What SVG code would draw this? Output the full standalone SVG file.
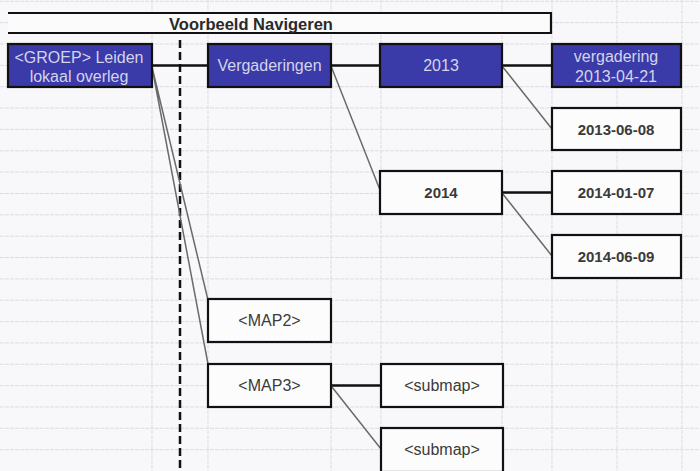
<svg xmlns="http://www.w3.org/2000/svg" width="700" height="471" viewBox="0 0 700 471">
<defs>
<style>
.grid line{stroke:#dcdce3;stroke-width:1;stroke-dasharray:4 1}
.blue{fill:#3a3aa8;stroke:#111;stroke-width:2.2}
.white{fill:#fcfcfc;stroke:#111;stroke-width:2.2}
.bt{font-family:"Liberation Sans",Arial,sans-serif;font-size:16px;fill:#d4d4ea;text-anchor:middle}
.wt{font-family:"Liberation Sans",Arial,sans-serif;font-size:15px;font-weight:bold;fill:#3a3a3a;text-anchor:middle}
.st{font-family:"Liberation Sans",Arial,sans-serif;font-size:16px;fill:#3a3a3a;text-anchor:middle}
.h{stroke:#111;stroke-width:2.4;fill:none}
.d{stroke:#6a6a6a;stroke-width:1.5;fill:none}
</style>
</defs>
<rect width="700" height="471" fill="#f8f8fa"/>
<g class="grid">
<line x1="152" y1="0" x2="152" y2="471"/>
<line x1="208" y1="0" x2="208" y2="471"/>
<line x1="331" y1="0" x2="331" y2="471"/>
<line x1="381" y1="0" x2="381" y2="471"/>
<line x1="502" y1="0" x2="502" y2="471"/>
<line x1="552" y1="0" x2="552" y2="471"/>
<line x1="617" y1="0" x2="617" y2="471"/>
<line x1="682" y1="0" x2="682" y2="471"/>
<line x1="0" y1="1.3" x2="700" y2="1.3"/>
<line x1="0" y1="22.6" x2="700" y2="22.6"/>
<line x1="0" y1="44" x2="700" y2="44"/>
<line x1="0" y1="65.4" x2="700" y2="65.4"/>
<line x1="0" y1="86.7" x2="700" y2="86.7"/>
<line x1="0" y1="108" x2="700" y2="108"/>
<line x1="0" y1="129.4" x2="700" y2="129.4"/>
<line x1="0" y1="150.8" x2="700" y2="150.8"/>
<line x1="0" y1="172.1" x2="700" y2="172.1"/>
<line x1="0" y1="193.5" x2="700" y2="193.5"/>
<line x1="0" y1="214.8" x2="700" y2="214.8"/>
<line x1="0" y1="236.2" x2="700" y2="236.2"/>
<line x1="0" y1="257.5" x2="700" y2="257.5"/>
<line x1="0" y1="278.9" x2="700" y2="278.9"/>
<line x1="0" y1="300.2" x2="700" y2="300.2"/>
<line x1="0" y1="321.6" x2="700" y2="321.6"/>
<line x1="0" y1="342.9" x2="700" y2="342.9"/>
<line x1="0" y1="364.3" x2="700" y2="364.3"/>
<line x1="0" y1="385.6" x2="700" y2="385.6"/>
<line x1="0" y1="407" x2="700" y2="407"/>
<line x1="0" y1="428.3" x2="700" y2="428.3"/>
<line x1="0" y1="449.7" x2="700" y2="449.7"/>
</g>
<g id="title">
<path d="M8 13H551V33H8" fill="#fbfbfb" stroke="#111" stroke-width="2.2"/>
<text x="251" y="30" font-family="'Liberation Sans',Arial,sans-serif" font-size="16.5" font-weight="bold" fill="#2a2a2a" text-anchor="middle">Voorbeeld Navigeren</text>
</g>
<line id="divider" x1="180" y1="40" x2="180" y2="471" stroke="#111" stroke-width="2.5" stroke-dasharray="8 4"/>
<g id="connectors">
<path class="h" d="M152 65.5H208M331 65.5H380M502 65.5H552M502 192.5H552M331 385.5H381"/>
<path class="d" d="M152 67L208 300M152 67L208 364M331 66L380 190M502 66L552 129M502 193L552 256M332 387L381 449"/>
</g>
<g id="groep"><rect class="blue" x="8" y="44" width="144" height="43"/><text class="bt" x="79" y="63">&lt;GROEP&gt; Leiden</text><text class="bt" x="79" y="82">lokaal overleg</text></g>
<g id="vergaderingen"><rect class="blue" x="208" y="44" width="123" height="43"/><text class="bt" x="269.5" y="71">Vergaderingen</text></g>
<g id="y2013"><rect class="blue" x="380" y="44" width="122" height="43"/><text class="bt" x="441" y="71">2013</text></g>
<g id="v20130421"><rect class="blue" x="552" y="44" width="129" height="43"/><text class="bt" x="616" y="62">vergadering</text><text class="bt" x="616" y="82">2013-04-21</text></g>
<g id="d20130608"><rect class="white" x="552" y="108" width="129" height="42"/><text class="wt" x="616" y="135">2013-06-08</text></g>
<g id="y2014"><rect class="white" x="380" y="171" width="122" height="43"/><text class="wt" x="441" y="198">2014</text></g>
<g id="d20140107"><rect class="white" x="552" y="171" width="129" height="43"/><text class="wt" x="616" y="198">2014-01-07</text></g>
<g id="d20140609"><rect class="white" x="552" y="235" width="129" height="43"/><text class="wt" x="616" y="262">2014-06-09</text></g>
<g id="map2"><rect class="white" x="208" y="299" width="123" height="43"/><text class="st" x="269.5" y="326">&lt;MAP2&gt;</text></g>
<g id="map3"><rect class="white" x="208" y="364" width="123" height="43"/><text class="st" x="269.5" y="391">&lt;MAP3&gt;</text></g>
<g id="submap1"><rect class="white" x="381" y="364" width="122" height="43"/><text class="st" x="442" y="391">&lt;submap&gt;</text></g>
<g id="submap2"><rect class="white" x="381" y="428" width="122" height="44"/><text class="st" x="442" y="455">&lt;submap&gt;</text></g>
</svg>
